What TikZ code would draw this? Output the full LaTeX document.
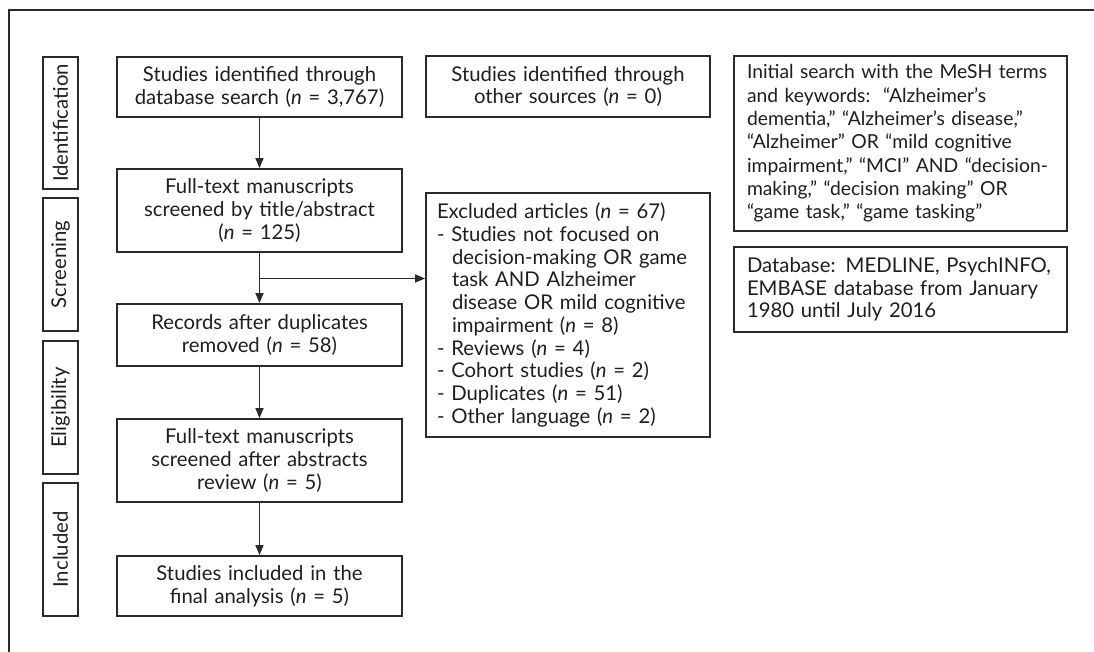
\documentclass[tikz,border=0pt]{standalone}
\usepackage{fontspec}
\setmainfont{Lato}
\usetikzlibrary{arrows.meta}
\definecolor{ink}{HTML}{1E1E1E}
\definecolor{edge}{HTML}{2A2A2A}
\newcommand{\nn}{\textit{n}}
\begin{document}
\begin{tikzpicture}[x=1pt,y=-1pt,
  font=\fontsize{20.3}{22.7}\selectfont, text=ink,
  box/.style={draw=edge, line width=1.8pt, inner sep=0pt, align=center},
  lbox/.style={draw=edge, line width=1.8pt, inner xsep=#1, inner ysep=0pt, align=left},
  side/.style={draw=edge, line width=1.8pt, inner sep=0pt, rotate=90, minimum height=35pt},
  arr/.style={draw=edge, line width=1.6pt, -{Triangle[length=10pt,width=8pt]}}]
\useasboundingbox (0,0) rectangle (1094,652);
\draw[edge, line width=1.8pt] (9,652) -- (9,10) -- (1094,10);
% side labels
\node[side, minimum width=132pt] (sid) at (60.5,123) {Identification};
\node[side, minimum width=133pt] (ssc) at (60.5,264.5) {Screening};
\node[side, minimum width=133pt] (sel) at (60.5,407.5) {Eligibility};
\node[side, minimum width=133pt] (sin) at (60.5,549.5) {Included};
% main column
\node[box, text width=285pt, minimum height=60pt] (b1) at (259.5,87)
  {Studies identified through\\database search (\nn{} = 3,767)};
\node[box, text width=285pt, minimum height=83pt] (b2) at (259.5,210.5)
  {Full-text manuscripts\\screened by title/abstract\\(\nn{} = 125)};
\node[box, text width=285pt, minimum height=62pt] (b3) at (259.5,335)
  {Records after duplicates\\removed (\nn{} = 58)};
\node[box, text width=285pt, minimum height=83pt] (b4) at (259.5,460.5)
  {Full-text manuscripts\\screened after abstracts\\review (\nn{} = 5)};
\node[box, text width=285pt, minimum height=60pt] (b5) at (259.5,586)
  {Studies included in the\\final analysis (\nn{} = 5)};
% middle column
\node[box, text width=284pt, minimum height=61pt] (m1) at (568,86.5)
  {Studies identified through\\other sources (\nn{} = 0)};
\node[lbox=11pt, text width=262pt, minimum height=244pt] (ex) at (568,315)
  {Excluded articles (\nn{} = 67)\\
   - Studies not focused on\\
   \hspace*{15pt}decision-making OR game\\
   \hspace*{15pt}task AND Alzheimer\\
   \hspace*{15pt}disease OR mild cognitive\\
   \hspace*{15pt}impairment (\nn{} = 8)\\
   - Reviews (\nn{} = 4)\\
   - Cohort studies (\nn{} = 2)\\
   - Duplicates (\nn{} = 51)\\
   - Other language (\nn{} = 2)};
% right column
\node[lbox=13pt, text width=307pt, minimum height=175pt, font=\fontsize{19.3}{23.3}\selectfont] (r1) at (900.5,143.5)
  {\mbox{Initial search with the MeSH terms}\\
   \mbox{and keywords:\ \ “Alzheimer’s}\\
   \mbox{dementia,” “Alzheimer’s disease,”}\\
   \mbox{“Alzheimer” OR “mild cognitive}\\
   \mbox{impairment,” “MCI” AND “decision-}\\
   \mbox{making,” “decision making” OR}\\
   \mbox{“game task,” “game tasking”}};
\node[lbox=13pt, text width=307pt, minimum height=85pt] (r2) at (900.5,289.5)
  {\mbox{Database: MEDLINE, PsychINFO,}\\
   \mbox{EMBASE database from January}\\
   \mbox{1980 until July 2016}};
% connectors
\coordinate (br) at (259.5,278.5);
\draw[arr] (b1) -- (b2);
\draw[arr] (b2) -- (b3);
\draw[arr] (br) -- (br -| ex.west);
\draw[arr] (b3) -- (b4);
\draw[arr] (b4) -- (b5);
\end{tikzpicture}
\end{document}
